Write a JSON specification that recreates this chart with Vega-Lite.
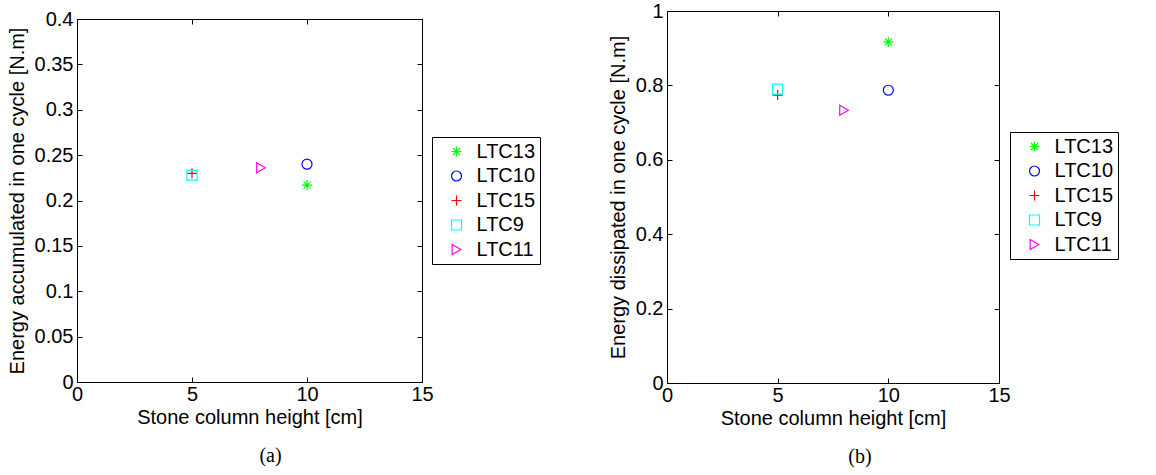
{
  "$schema": "https://vega.github.io/schema/vega-lite/v6.json",
  "padding": {"left": 6, "top": 0, "right": 150, "bottom": 0},
  "background": "white",
  "spacing": 66,
  "resolve": {"scale": {"color": "independent", "shape": "independent"}, "legend": {"color": "independent", "shape": "independent"}},
  "config": {
    "font": "Liberation Sans",
    "view": {"stroke": "black", "strokeWidth": 1},
    "axis": {"grid": false, "domain": false, "tickColor": "black", "tickSize": -5, "labelFontSize": 20, "labelColor": "black", "titleFontSize": 20, "titleFontWeight": "normal", "titleColor": "black", "labelFlush": false, "labelOverlap": false},
    "axisX": {"labelPadding": 7, "titlePadding": 3},
    "axisY": {"labelPadding": 9, "titlePadding": 7},
    "legend": {"strokeColor": "black", "strokeWidth": 1, "fillColor": "white", "padding": 4.5, "labelFontSize": 20, "labelColor": "black", "symbolSize": 100, "symbolStrokeWidth": 1.2, "symbolOffset": 10, "labelOffset": 10, "rowPadding": 4.5},
    "title": {"font": "Liberation Serif", "fontSize": 20, "fontWeight": "normal", "orient": "bottom", "offset": 19, "color": "black"}
  },
  "hconcat": [
    {
      "spacing": -7,
      "vconcat": [
        {
          "width": 345,
          "height": 1,
          "view": {"stroke": null},
          "data": {"values": [{"s": 0}]},
          "mark": {"type": "point", "opacity": 0},
          "encoding": {}
        },
        {
          "width": 345,
          "height": 363,
          "title": {"text": "(a)", "dx": 21},
          "data": {"values": [
            {"test": "LTC13", "height": 10, "energy": 0.217},
            {"test": "LTC10", "height": 10, "energy": 0.240},
            {"test": "LTC15", "height": 5, "energy": 0.230},
            {"test": "LTC9", "height": 5, "energy": 0.228},
            {"test": "LTC11", "height": 8, "energy": 0.236}
          ]},
          "layer": [
            {
              "mark": {"type": "point", "filled": false, "strokeWidth": 1.2, "size": 100, "opacity": 1},
              "encoding": {
                "x": {"field": "height", "type": "quantitative", "scale": {"domain": [0, 15], "nice": false, "zero": false}, "axis": {"values": [0, 5, 10, 15], "format": "d", "title": "Stone column height [cm]"}},
                "y": {"field": "energy", "type": "quantitative", "scale": {"domain": [0, 0.4], "nice": false}, "axis": {"values": [0, 0.05, 0.1, 0.15, 0.2, 0.25, 0.3, 0.35, 0.4], "format": "~g", "title": "Energy accumulated in one cycle [N.m]"}},
                "color": {"field": "test", "type": "nominal", "scale": {"domain": ["LTC13", "LTC10", "LTC15", "LTC9", "LTC11"], "range": ["#00ff00", "#0000ff", "#ff0000", "#00ffff", "#ff00ff"]}, "legend": {"orient": "none", "legendX": 355, "legendY": 126, "title": null}},
                "shape": {"field": "test", "type": "nominal", "scale": {"domain": ["LTC13", "LTC10", "LTC15", "LTC9", "LTC11"], "range": ["M0,-1L0,1M-1,0L1,0M-0.7,-0.7L0.7,0.7M-0.7,0.7L0.7,-0.7", "circle", "M0,-1L0,1M-1,0L1,0", "square", "triangle-right"]}, "legend": {"orient": "none", "legendX": 355, "legendY": 126, "title": null}}
              }
            },
            {
              "mark": {"type": "point", "opacity": 0},
              "encoding": {
                "x": {"field": "height", "type": "quantitative", "axis": {"orient": "top", "values": [0, 5, 10, 15], "labels": false, "title": null}},
                "y": {"field": "energy", "type": "quantitative", "axis": {"orient": "right", "values": [0, 0.05, 0.1, 0.15, 0.2, 0.25, 0.3, 0.35, 0.4], "labels": false, "title": null}}
              }
            }
          ],
          "resolve": {"axis": {"x": "independent", "y": "independent"}}
        }
      ]
    },
    {
      "width": 332,
      "height": 372,
      "title": {"text": "(b)", "dx": 27},
      "data": {"values": [
        {"test": "LTC13", "height": 10, "energy": 0.917},
        {"test": "LTC10", "height": 10, "energy": 0.787},
        {"test": "LTC15", "height": 5, "energy": 0.774},
        {"test": "LTC9", "height": 5, "energy": 0.790},
        {"test": "LTC11", "height": 8, "energy": 0.733}
      ]},
      "layer": [
        {
          "mark": {"type": "point", "filled": false, "strokeWidth": 1.2, "size": 100, "opacity": 1},
          "encoding": {
            "x": {"field": "height", "type": "quantitative", "scale": {"domain": [0, 15], "nice": false, "zero": false}, "axis": {"values": [0, 5, 10, 15], "format": "d", "title": "Stone column height [cm]"}},
            "y": {"field": "energy", "type": "quantitative", "scale": {"domain": [0, 1], "nice": false}, "axis": {"values": [0, 0.2, 0.4, 0.6, 0.8, 1], "format": "~g", "title": "Energy dissipated in one cycle [N.m]"}},
            "color": {"field": "test", "type": "nominal", "scale": {"domain": ["LTC13", "LTC10", "LTC15", "LTC9", "LTC11"], "range": ["#00ff00", "#0000ff", "#ff0000", "#00ffff", "#ff00ff"]}, "legend": {"orient": "none", "legendX": 343, "legendY": 121, "title": null}},
            "shape": {"field": "test", "type": "nominal", "scale": {"domain": ["LTC13", "LTC10", "LTC15", "LTC9", "LTC11"], "range": ["M0,-1L0,1M-1,0L1,0M-0.7,-0.7L0.7,0.7M-0.7,0.7L0.7,-0.7", "circle", "M0,-1L0,1M-1,0L1,0", "square", "triangle-right"]}, "legend": {"orient": "none", "legendX": 343, "legendY": 121, "title": null}}
          }
        },
        {
          "mark": {"type": "point", "opacity": 0},
          "encoding": {
            "x": {"field": "height", "type": "quantitative", "axis": {"orient": "top", "values": [0, 5, 10, 15], "labels": false, "title": null}},
            "y": {"field": "energy", "type": "quantitative", "axis": {"orient": "right", "values": [0, 0.2, 0.4, 0.6, 0.8, 1], "labels": false, "title": null}}
          }
        }
      ],
      "resolve": {"axis": {"x": "independent", "y": "independent"}}
    }
  ]
}
